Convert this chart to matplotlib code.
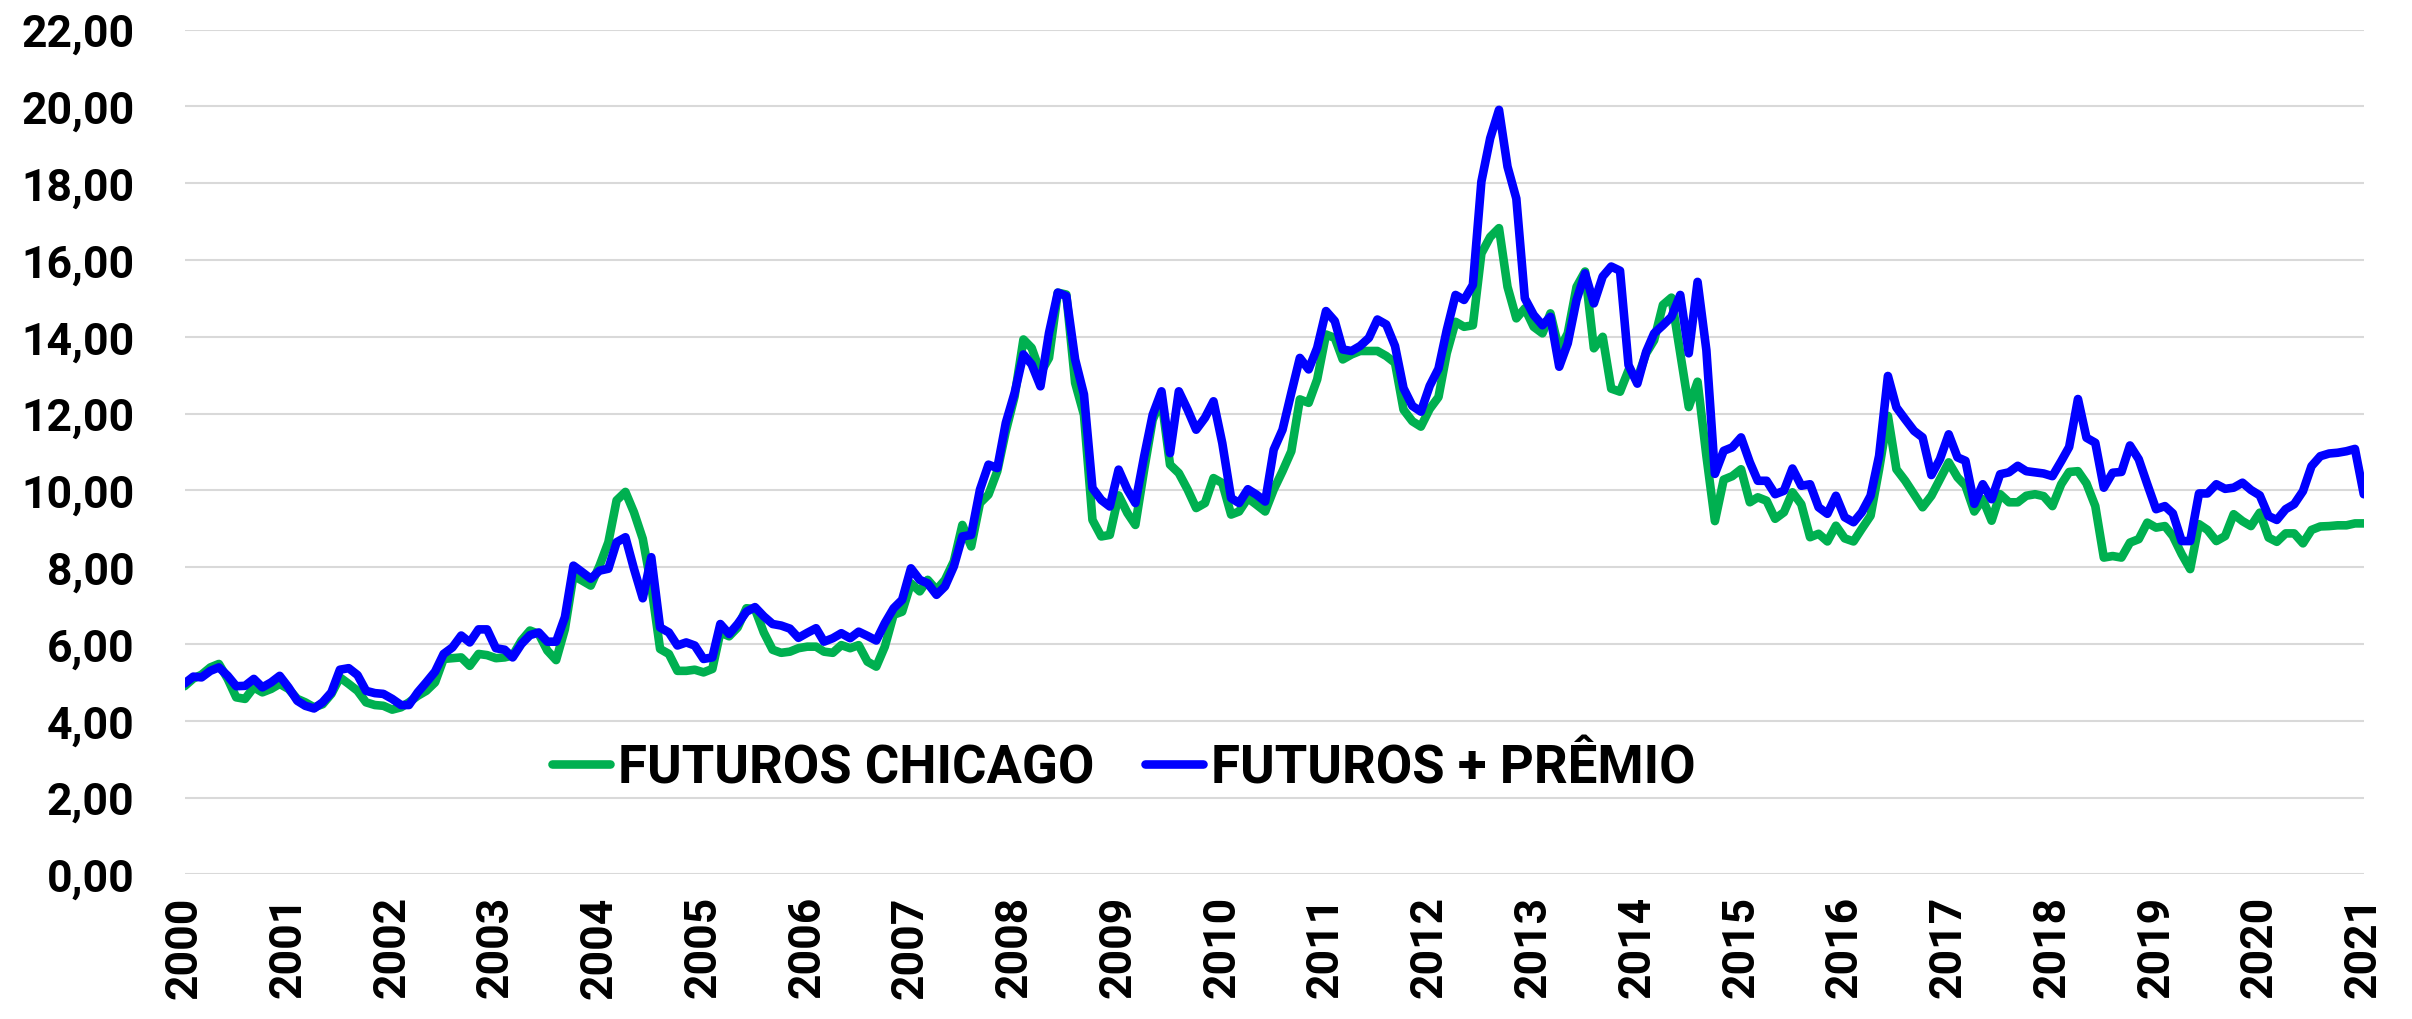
import matplotlib
matplotlib.use("Agg")
import matplotlib.pyplot as plt
import pandas as pd

FONT = "Roboto"
FONT_SIZE = 32
LEGEND_SIZE = 38

# Monthly values, Jan 2000 .. Jan 2021 (one row per year)
chicago = [
    4.90, 5.10, 5.20, 5.39, 5.48, 5.09, 4.61, 4.57, 4.87, 4.74, 4.83, 4.96,
    4.83, 4.57, 4.48, 4.35, 4.43, 4.70, 5.13, 4.96, 4.78, 4.48, 4.41, 4.39,
    4.29, 4.35, 4.48, 4.65, 4.78, 5.00, 5.61, 5.63, 5.65, 5.43, 5.74, 5.71,
    5.63, 5.65, 5.70, 6.09, 6.35, 6.26, 5.83, 5.58, 6.39, 7.78, 7.65, 7.52,
    8.04, 8.65, 9.74, 9.96, 9.43, 8.74, 7.52, 5.87, 5.74, 5.30, 5.30, 5.33,
    5.26, 5.35, 6.30, 6.20, 6.43, 6.93, 6.91, 6.30, 5.85, 5.77, 5.80, 5.89,
    5.93, 5.93, 5.80, 5.77, 5.97, 5.89, 5.97, 5.54, 5.41, 5.93, 6.76, 6.84,
    7.58, 7.37, 7.67, 7.41, 7.67, 8.15, 9.10, 8.54, 9.67, 9.89, 10.50, 11.54,
    12.45, 13.93, 13.71, 13.06, 13.45, 15.15, 15.10, 12.80, 11.97, 9.23, 8.80, 8.84,
    9.87, 9.41, 9.10, 10.54, 11.84, 12.37, 10.67, 10.45, 10.02, 9.54, 9.67, 10.32,
    10.19, 9.37, 9.45, 9.80, 9.63, 9.45, 10.02, 10.50, 11.02, 12.37, 12.28, 12.89,
    14.06, 13.97, 13.41, 13.54, 13.63, 13.63, 13.63, 13.50, 13.32, 12.10, 11.80, 11.66,
    12.12, 12.43, 13.57, 14.39, 14.26, 14.30, 16.17, 16.60, 16.83, 15.30, 14.48, 14.74,
    14.26, 14.09, 14.61, 13.65, 14.09, 15.30, 15.70, 13.70, 14.00, 12.65, 12.57, 13.13,
    12.91, 13.57, 13.91, 14.83, 15.02, 13.57, 12.17, 12.83, 10.90, 9.20, 10.28, 10.37,
    10.55, 9.69, 9.82, 9.73, 9.26, 9.43, 9.95, 9.64, 8.78, 8.87, 8.67, 9.08,
    8.75, 8.67, 9.00, 9.34, 10.55, 11.94, 10.55, 10.25, 9.90, 9.56, 9.86, 10.29,
    10.73, 10.34, 10.12, 9.45, 9.77, 9.21, 9.90, 9.69, 9.69, 9.86, 9.90, 9.85,
    9.59, 10.16, 10.48, 10.50, 10.18, 9.59, 8.25, 8.29, 8.25, 8.64, 8.73, 9.16,
    9.03, 9.07, 8.81, 8.34, 7.95, 9.12, 8.97, 8.68, 8.81, 9.38, 9.20, 9.07,
    9.42, 8.77, 8.66, 8.88, 8.88, 8.62, 8.97, 9.06, 9.07, 9.09, 9.09, 9.14,
    9.14,
]

premio = [
    4.97, 5.15, 5.13, 5.30, 5.39, 5.17, 4.90, 4.91, 5.09, 4.87, 5.00, 5.17,
    4.87, 4.52, 4.39, 4.32, 4.48, 4.74, 5.33, 5.37, 5.19, 4.78, 4.72, 4.70,
    4.57, 4.41, 4.41, 4.74, 5.00, 5.28, 5.74, 5.91, 6.22, 6.04, 6.38, 6.38,
    5.89, 5.85, 5.65, 6.00, 6.23, 6.30, 6.06, 6.06, 6.70, 8.04, 7.87, 7.70,
    7.91, 7.96, 8.65, 8.78, 7.96, 7.19, 8.26, 6.43, 6.30, 5.96, 6.04, 5.96,
    5.61, 5.65, 6.52, 6.26, 6.52, 6.84, 6.96, 6.72, 6.52, 6.48, 6.40, 6.16,
    6.29, 6.41, 6.06, 6.15, 6.28, 6.15, 6.32, 6.21, 6.09, 6.54, 6.93, 7.15,
    7.97, 7.67, 7.58, 7.28, 7.50, 8.02, 8.80, 8.84, 10.02, 10.67, 10.58, 11.76,
    12.54, 13.54, 13.28, 12.71, 14.10, 15.15, 15.06, 13.41, 12.50, 10.06, 9.75, 9.58,
    10.54, 10.02, 9.67, 10.89, 11.97, 12.58, 10.97, 12.58, 12.10, 11.58, 11.89, 12.32,
    11.23, 9.80, 9.67, 10.03, 9.89, 9.71, 11.06, 11.58, 12.54, 13.45, 13.15, 13.71,
    14.67, 14.41, 13.67, 13.63, 13.76, 13.97, 14.45, 14.32, 13.76, 12.66, 12.20, 12.05,
    12.72, 13.17, 14.17, 15.09, 14.96, 15.35, 18.04, 19.17, 19.91, 18.43, 17.60, 15.00,
    14.57, 14.30, 14.52, 13.22, 13.83, 14.96, 15.65, 14.87, 15.57, 15.83, 15.72, 13.26,
    12.78, 13.61, 14.09, 14.30, 14.52, 15.09, 13.57, 15.43, 13.65, 10.43, 11.03, 11.12,
    11.38, 10.73, 10.25, 10.25, 9.90, 9.99, 10.57, 10.12, 10.16, 9.56, 9.39, 9.86,
    9.30, 9.17, 9.43, 9.86, 10.90, 12.98, 12.16, 11.85, 11.55, 11.38, 10.40, 10.81,
    11.46, 10.86, 10.77, 9.65, 10.16, 9.77, 10.42, 10.47, 10.64, 10.50, 10.47, 10.44,
    10.37, 10.76, 11.13, 12.38, 11.37, 11.24, 10.07, 10.46, 10.48, 11.17, 10.81, 10.16,
    9.51, 9.59, 9.40, 8.68, 8.68, 9.92, 9.92, 10.16, 10.04, 10.07, 10.20, 10.01,
    9.87, 9.33, 9.23, 9.51, 9.64, 9.98, 10.63, 10.89, 10.96, 10.98, 11.02, 11.08,
    9.90,
]

labels = ["FUTUROS CHICAGO", "FUTUROS + PRÊMIO"]
colors = ["#00B050", "#0000FF"]

dates = pd.date_range("2000-01-01", periods=len(chicago), freq="MS")

plt.rcParams["font.family"] = [FONT, "DejaVu Sans"]
plt.rcParams["font.weight"] = "bold"

fig = plt.figure(figsize=(24.12, 10.2), dpi=100)
ax = fig.add_axes([0.0765, 0.1418, 0.9035, 0.8282])

for vals, lab, col in zip([chicago, premio], labels, colors):
    ax.plot(dates, vals, color=col, lw=6.2, label=lab,
            solid_joinstyle="round", solid_capstyle="round")

ax.set_xlim(dates[0], dates[-1])
ax.set_ylim(0, 22)
ax.set_yticks(range(0, 23, 2))
ax.set_yticklabels([f"{v:.2f}".replace(".", ",") for v in range(0, 23, 2)])

years = pd.date_range("2000-01-01", "2021-01-01", freq="YS")
ax.set_xticks(years)
ax.set_xticklabels([str(d.year) for d in years], rotation=90, va="top", ha="center")

ax.tick_params(axis="both", length=0, labelsize=FONT_SIZE)
ax.tick_params(axis="y", pad=36)
ax.tick_params(axis="x", pad=15)
for lab in ax.get_xticklabels() + ax.get_yticklabels():
    lab.set_fontweight("bold")

ax.grid(axis="y", color="#D9D9D9", lw=1.5)
ax.set_axisbelow(True)
for s in ax.spines.values():
    s.set_visible(False)

ax.legend(loc="center", bbox_to_anchor=(0.431, 0.126), ncol=2, frameon=False,
          handlelength=1.1, handletextpad=0.15, columnspacing=0.95,
          prop={"family": FONT, "weight": "bold", "size": LEGEND_SIZE})

fig.savefig("out.png", dpi=100, facecolor="white")
